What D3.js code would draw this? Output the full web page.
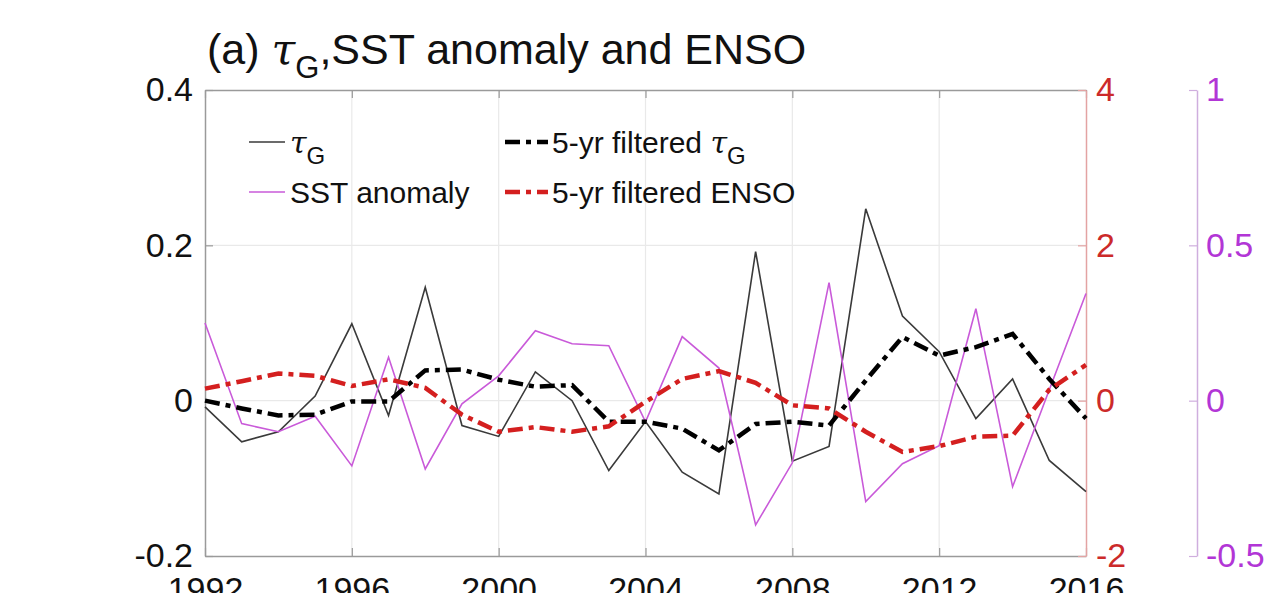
<!DOCTYPE html>
<html>
<head>
<meta charset="utf-8">
<script src="https://cdn.jsdelivr.net/npm/d3@7"></script>
<style>
  html, body { margin: 0; padding: 0; background: #fff; overflow: hidden; }
  svg { display: block; font-family: "Liberation Sans", Arial, sans-serif; }
</style>
</head>
<body>
<svg id="chart" width="1275" height="593"></svg>
<script>
// Yearly series, 1992-2016
const years = d3.range(1992, 2017);

// τG (left axis)
const tauG = [-0.008, -0.053, -0.040, 0.006, 0.099, -0.019, 0.146, -0.032, -0.046, 0.037,
              0.000, -0.090, -0.027, -0.092, -0.120, 0.192, -0.078, -0.059, 0.247, 0.109,
              0.063, -0.023, 0.028, -0.077, -0.117];

// 5-yr filtered τG (left axis)
const tauGFiltered = [0.000, -0.010, -0.019, -0.018, -0.001, -0.001, 0.039, 0.040, 0.027, 0.018,
                      0.020, -0.027, -0.027, -0.036, -0.064, -0.030, -0.027, -0.032, 0.026, 0.082,
                      0.058, 0.069, 0.086, 0.028, -0.023];

// SST anomaly (outer right axis)
const sstAnomaly = [0.250, -0.074, -0.100, -0.050, -0.210, 0.140, -0.220, -0.010, 0.080, 0.225,
                    0.183, 0.177, -0.068, 0.206, 0.105, -0.400, -0.200, 0.380, -0.325, -0.203,
                    -0.145, 0.296, -0.277, 0.035, 0.345];

// 5-yr filtered ENSO (inner right axis)
const ensoFiltered = [0.155, 0.250, 0.350, 0.320, 0.190, 0.275, 0.165, -0.180, -0.400, -0.340,
                      -0.400, -0.330, -0.015, 0.280, 0.380, 0.230, -0.060, -0.100, -0.400, -0.660,
                      -0.585, -0.465, -0.450, 0.140, 0.460];

// Tick values
const xTicks = [1992, 1996, 2000, 2004, 2008, 2012, 2016];
const leftTicks = [-0.2, 0, 0.2, 0.4];
const ensoTicks = [-2, 0, 2, 4];
const sstTicks = [-0.5, 0, 0.5, 1];

const svg = d3.select("#chart");
const L = 205, R = 1086, T = 90, B = 556, SSTX = 1197;

const x = d3.scaleLinear().domain([1992, 2016]).range([L, R]);
const yL = d3.scaleLinear().domain([-0.2, 0.4]).range([B, T]);
const yE = d3.scaleLinear().domain([-2, 4]).range([B, T]);
const yS = d3.scaleLinear().domain([-0.5, 1]).range([B, T]);

const C = {
  tau: "#3a3a3a",
  sst: "#c95ad9",
  red: "#d41f1f",
  axis: "#9a9a9a",
  grid: "#e9e9e9",
  redAxis: "#e3a3a3",
  purpleAxis: "#cfaede",
  redText: "#cc2a2a",
  purpleText: "#b236d6"
};
const tickFont = 34;

// plain hyphen-minus labels, no trailing zeros
const fmt = d => String(+d.toFixed(2));

// grid
const grid = svg.append("g");
grid.selectAll(".gx").data(xTicks.slice(1, -1)).join("line")
  .attr("x1", d => x(d)).attr("x2", d => x(d)).attr("y1", T).attr("y2", B)
  .attr("stroke", C.grid).attr("stroke-width", 1.2);
grid.selectAll(".gy").data([0, 0.2]).join("line")
  .attr("x1", L).attr("x2", R).attr("y1", d => yL(d)).attr("y2", d => yL(d))
  .attr("stroke", C.grid).attr("stroke-width", 1.2);

function styleAxis(g, lineColor, textColor) {
  g.select(".domain").attr("stroke", lineColor).attr("stroke-width", 1.5);
  g.selectAll(".tick line").attr("stroke", lineColor).attr("stroke-width", 1.2);
  g.selectAll(".tick text").attr("fill", textColor).attr("font-size", tickFont)
    .attr("font-family", "Liberation Sans, Arial, sans-serif");
}

// top and bottom
const topAx = svg.append("g").attr("transform", `translate(0,${T})`)
  .call(d3.axisTop(x).tickValues(xTicks).tickSizeInner(-8).tickSizeOuter(0).tickFormat(""));
styleAxis(topAx, C.axis, "#111");
const botAx = svg.append("g").attr("transform", `translate(0,${B})`)
  .call(d3.axisBottom(x).tickValues(xTicks).tickSizeInner(-8).tickSizeOuter(0)
    .tickPadding(21).tickFormat(d3.format("d")));
styleAxis(botAx, C.axis, "#111");

// left axis
const leftAx = svg.append("g").attr("transform", `translate(${L},0)`)
  .call(d3.axisLeft(yL).tickValues(leftTicks).tickSizeInner(-8).tickSizeOuter(0)
    .tickPadding(12).tickFormat(fmt));
styleAxis(leftAx, C.axis, "#111");

// inner right axis: ENSO
const ensoAx = svg.append("g").attr("transform", `translate(${R},0)`)
  .call(d3.axisRight(yE).tickValues(ensoTicks).tickSizeInner(-8).tickSizeOuter(0)
    .tickPadding(10).tickFormat(fmt));
styleAxis(ensoAx, C.redAxis, C.redText);

// outer right axis: SST anomaly
const sstAx = svg.append("g").attr("transform", `translate(${SSTX},0)`)
  .call(d3.axisRight(yS).tickValues(sstTicks).tickSizeInner(-8).tickSizeOuter(0)
    .tickPadding(9).tickFormat(fmt));
styleAxis(sstAx, C.purpleAxis, C.purpleText);

// series
const plot = svg.append("g");
const lineOf = (vals, y) => d3.line().x((d, i) => x(years[i])).y(d => y(d))(vals);

plot.append("path").attr("d", lineOf(tauG, yL))
  .attr("fill", "none").attr("stroke", C.tau).attr("stroke-width", 1.6);
plot.append("path").attr("d", lineOf(sstAnomaly, yS))
  .attr("fill", "none").attr("stroke", C.sst).attr("stroke-width", 1.6);
plot.append("path").attr("d", lineOf(tauGFiltered, yL))
  .attr("fill", "none").attr("stroke", "#000").attr("stroke-width", 4.5)
  .attr("stroke-dasharray", "15,6,5,6");
plot.append("path").attr("d", lineOf(ensoFiltered, yE))
  .attr("fill", "none").attr("stroke", C.red).attr("stroke-width", 4.5)
  .attr("stroke-dasharray", "15,6,5,6");

// title
const title = svg.append("text").attr("x", 207).attr("y", 64)
  .attr("font-size", 43).attr("fill", "#111");
title.append("tspan").text("(a) ");
title.append("tspan").attr("font-style", "italic").attr("font-family", "DejaVu Serif, serif").text("τ");
title.append("tspan").attr("font-size", 31).attr("dy", 14).text("G");
title.append("tspan").attr("dy", -14).text(",SST anomaly and ENSO");

// legend
const legend = svg.append("g").attr("font-size", 30).attr("fill", "#111");
function symLabel(g, xPos, yBase, prefix) {
  const t = g.append("text").attr("x", xPos).attr("y", yBase);
  if (prefix) t.append("tspan").text(prefix);
  t.append("tspan").attr("font-style", "italic").attr("font-family", "DejaVu Serif, serif").text("τ");
  t.append("tspan").attr("font-size", 24).attr("dy", 11).text("G");
}
const legendItems = [
  { key: "tau", col: 0, row: 0, color: C.tau, w: 1.6, dash: null },
  { key: "sst", col: 0, row: 1, color: C.sst, w: 1.6, dash: null, label: "SST anomaly" },
  { key: "tauF", col: 1, row: 0, color: "#000", w: 4.5, dash: "15,6,5,6" },
  { key: "enso", col: 1, row: 1, color: C.red, w: 4.5, dash: "15,6,5,6", label: "5-yr filtered ENSO" }
];
const colX = [[249, 285, 290], [505, 548, 552]];
const rowY = [[142, 153], [192, 203]];
legendItems.forEach(it => {
  const [x1, x2, tx] = colX[it.col];
  const [ly, ty] = rowY[it.row];
  legend.append("line").attr("x1", x1).attr("x2", x2).attr("y1", ly).attr("y2", ly)
    .attr("stroke", it.color).attr("stroke-width", it.w)
    .attr("stroke-dasharray", it.dash);
  if (it.key === "tau") symLabel(legend, tx, ty, null);
  else if (it.key === "tauF") symLabel(legend, tx, ty, "5-yr filtered ");
  else legend.append("text").attr("x", tx).attr("y", ty).text(it.label);
});
</script>
</body>
</html>
